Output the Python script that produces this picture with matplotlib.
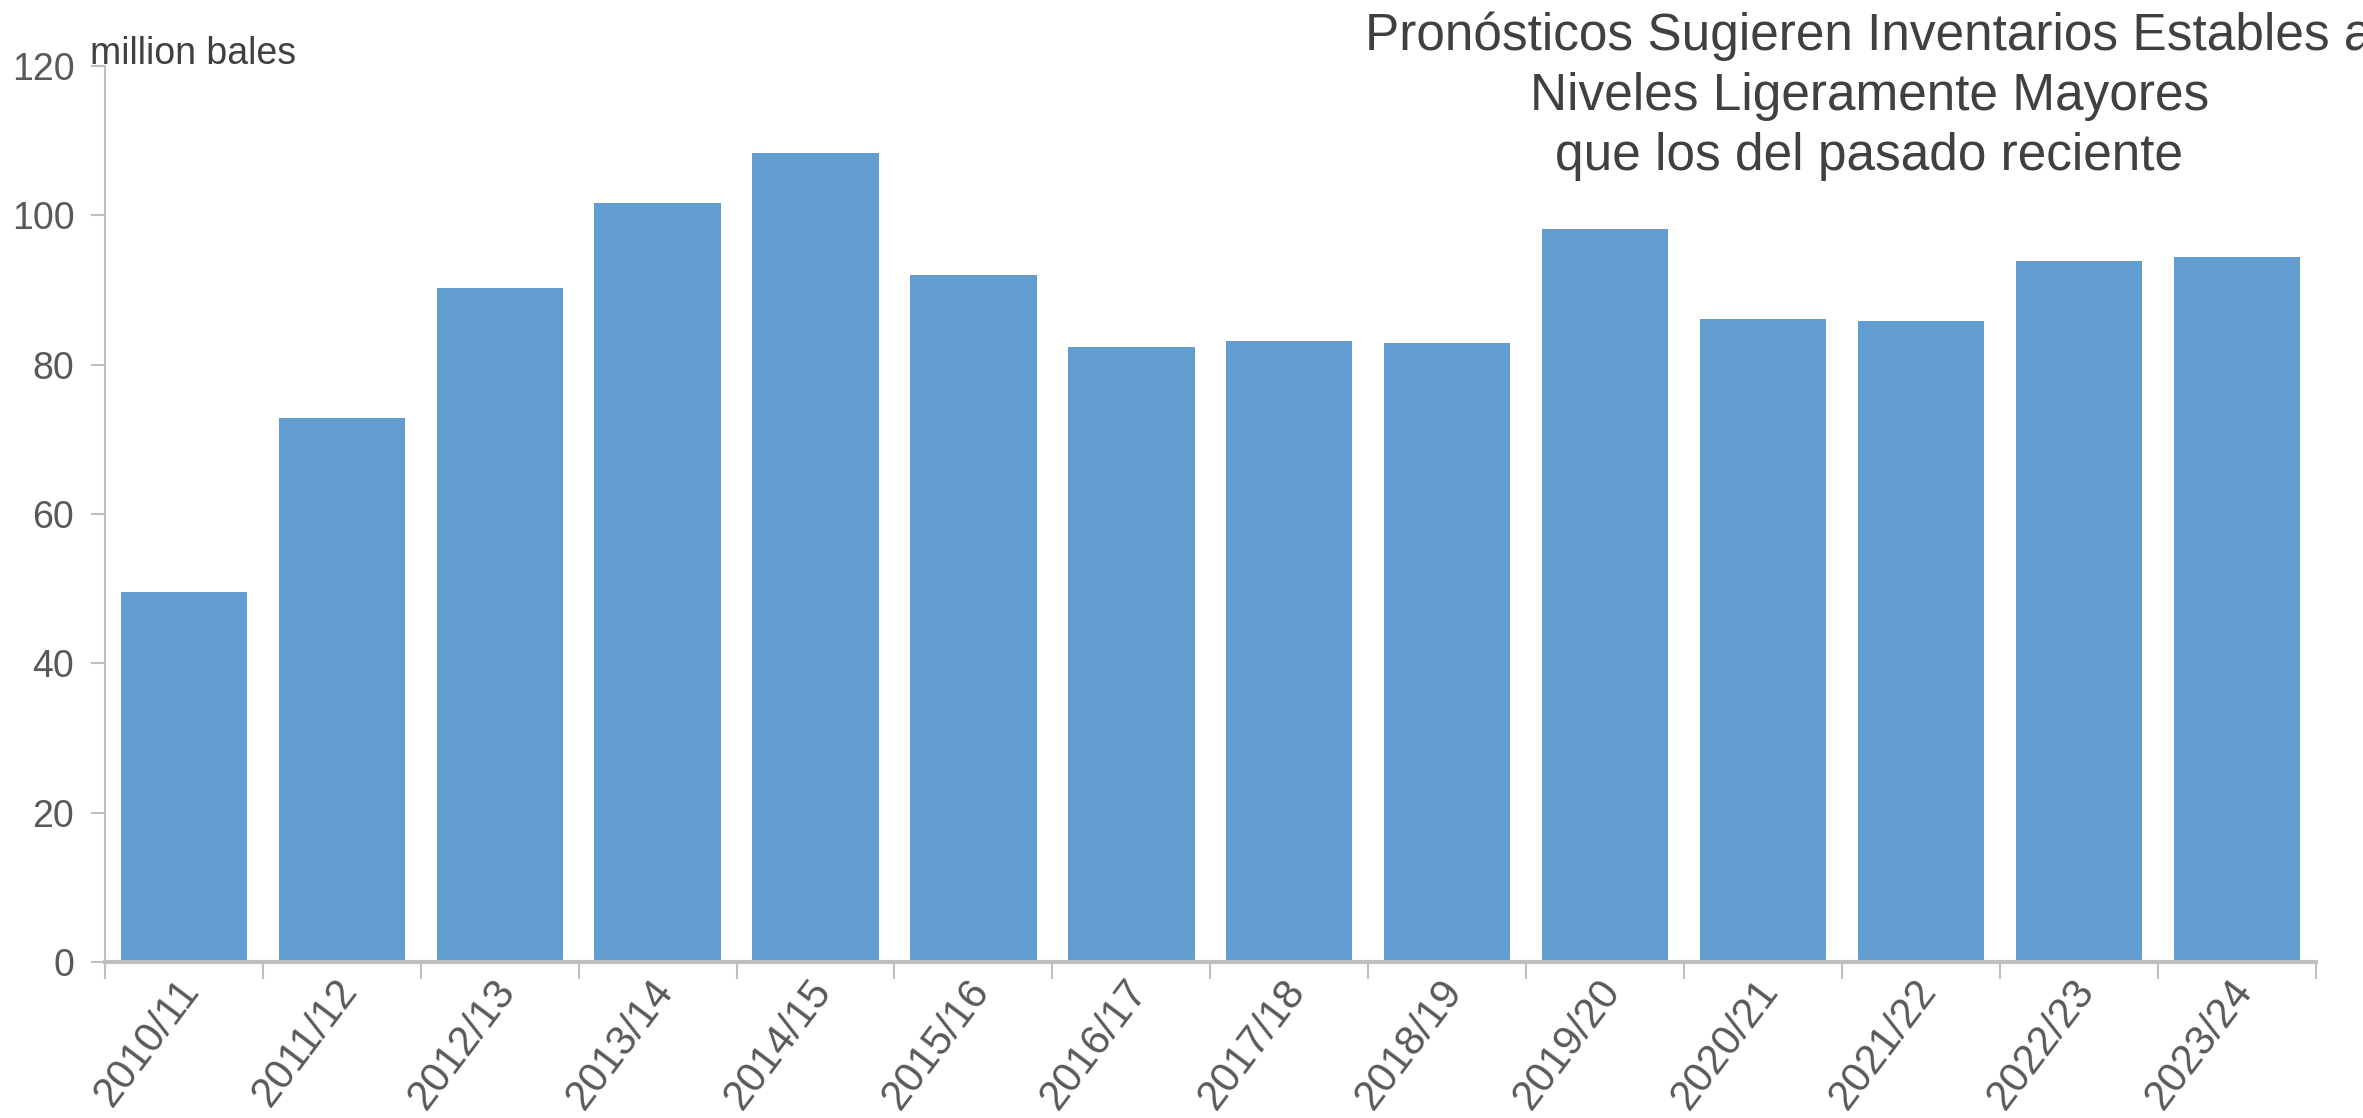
import matplotlib.pyplot as plt
import matplotlib.transforms as mtransforms
import numpy as np

seasons = ['2010/11', '2011/12', '2012/13', '2013/14', '2014/15', '2015/16', '2016/17',
           '2017/18', '2018/19', '2019/20', '2020/21', '2021/22', '2022/23', '2023/24']
stocks = [49.6, 72.8, 90.2, 101.7, 108.3, 92.0, 82.4, 83.2, 82.9, 98.1, 86.1, 85.9, 93.9, 94.4]
yticks = [0, 20, 40, 60, 80, 100, 120]

title_lines = 'Pronósticos Sugieren Inventarios Estables a\nNiveles Ligeramente Mayores\nque los del pasado reciente'

fig = plt.figure(figsize=(23.63, 11.18), dpi=100)
ax = fig.add_axes([0.0444, 0.1395, 0.9356, 0.8015])

x = np.arange(len(seasons))
ax.bar(x, stocks, width=0.8, color='#619DD1', zorder=2)

ax.set_xlim(-0.5, len(seasons) - 0.5)
ax.set_ylim(0, 120)
ax.set_yticks(yticks)
ax.set_yticklabels([str(v) for v in yticks], fontsize=27, color='#595959',
                   family=['Liberation Sans', 'DejaVu Sans'])

# ticks between categories, labels at centres
ax.set_xticks(np.arange(len(seasons) + 1) - 0.5)
ax.set_xticklabels([])
ax.set_xticks(x, minor=True)
ax.set_xticklabels(seasons, minor=True, rotation=53, ha='right', va='top',
                   rotation_mode='anchor', fontsize=30, color='#595959',
                   family=['Liberation Sans', 'DejaVu Sans'])
ax.tick_params(axis='x', which='minor', length=0, pad=7)
ax.tick_params(axis='x', which='major', length=12, width=1.5, color='#BFBFBF')
ax.tick_params(axis='y', length=10, width=1.5, color='#BFBFBF', pad=12)

shift = mtransforms.ScaledTranslation(-8 / 100, 0, fig.dpi_scale_trans)
for lbl in ax.get_xticklabels(minor=True):
    lbl.set_transform(lbl.get_transform() + shift)

for s in ['top', 'right']:
    ax.spines[s].set_visible(False)
ax.spines['left'].set_color('#BFBFBF')
ax.spines['left'].set_linewidth(1.5)
ax.spines['bottom'].set_color('#BFBFBF')
ax.spines['bottom'].set_linewidth(3)

fig.text(0.038, 0.943, 'million bales', fontsize=27, color='#404040',
         family=['Liberation Sans', 'DejaVu Sans'], ha='left', va='baseline')

fig.text(0.791, 0.99, title_lines, fontsize=37, color='#404040', ha='center', va='top',
         linespacing=1.3, family=['Liberation Sans', 'DejaVu Sans'])

fig.savefig('out.png', dpi=100, facecolor='white')
